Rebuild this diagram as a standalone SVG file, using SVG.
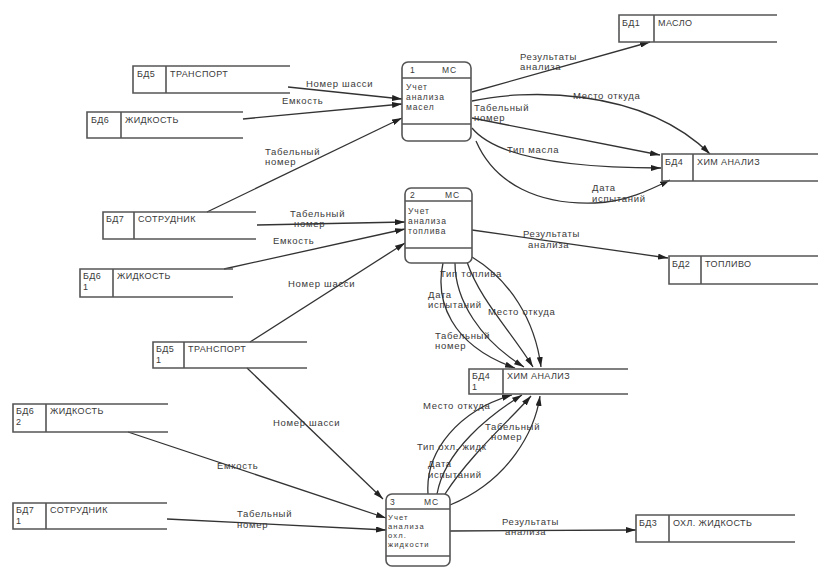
<svg xmlns="http://www.w3.org/2000/svg" width="818" height="567" viewBox="0 0 818 567">
  <defs>
    <marker id="arrow" viewBox="0 0 10 6" markerWidth="10" markerHeight="6" refX="10" refY="3" orient="auto" markerUnits="userSpaceOnUse">
      <path d="M0,0 L10,3 L0,6 Z" fill="#222"/>
    </marker>
    <style>
      .store { fill: none; stroke: #555; stroke-width: 1.6; }
      .proc { fill: #fff; stroke: #555; stroke-width: 1.6; }
      .div { stroke: #555; stroke-width: 1.4; fill: none; }
      .flow { fill: none; stroke: #333; stroke-width: 1.3; marker-end: url(#arrow); }
      text { font-family: "Liberation Sans", Arial, sans-serif; fill: #3a3a3a; }
      .st { font-size: 9px; letter-spacing: 0.4px; }
      .pt { font-size: 8.5px; letter-spacing: 0.9px; }
      .ps { font-size: 7.6px; letter-spacing: 1.1px; }
      .lb { font-size: 9.5px; letter-spacing: 0.7px; }
    </style>
  </defs>
  <rect width="818" height="567" fill="#fff"/>

  <!-- data flows -->
  <g id="connectors">
    <!-- into process 1 -->
    <path class="flow" d="M288,87 L402,99"/>
    <text class="lb" x="306" y="87">Номер шасси</text>
    <path class="flow" d="M243,119 L402,104"/>
    <text class="lb" x="282" y="104">Емкость</text>
    <path class="flow" d="M207,212 L402,118"/>
    <text class="lb" x="265" y="155">Табельный</text>
    <text class="lb" x="265" y="165">номер</text>

    <!-- out of process 1 -->
    <path class="flow" d="M472,92 L650,42"/>
    <text class="lb" x="520" y="60">Результаты</text>
    <text class="lb" x="520" y="70">анализа</text>
    <path class="flow" d="M472,101 C520,90 640,85 710,154"/>
    <text class="lb" x="573" y="99">Место откуда</text>
    <path class="flow" d="M472,118 L660,155"/>
    <text class="lb" x="474" y="111">Табельный</text>
    <text class="lb" x="474" y="121">номер</text>
    <path class="flow" d="M472,128 C490,150 540,168 661,168"/>
    <text class="lb" x="507" y="153">Тип масла</text>
    <path class="flow" d="M476,141 C495,185 540,205 595,203 C625,202 650,190 670,180"/>
    <text class="lb" x="592" y="191">Дата</text>
    <text class="lb" x="592" y="202">испытаний</text>

    <!-- into process 2 -->
    <path class="flow" d="M257,225 L405,222"/>
    <text class="lb" x="290" y="217">Табельный</text>
    <text class="lb" x="294" y="227">номер</text>
    <path class="flow" d="M224,269 L405,229"/>
    <text class="lb" x="273" y="244">Емкость</text>
    <path class="flow" d="M250,342 L405,243"/>
    <text class="lb" x="288" y="287">Номер шасси</text>

    <!-- out of process 2 -->
    <path class="flow" d="M472,230 L668,258"/>
    <text class="lb" x="523" y="237">Результаты</text>
    <text class="lb" x="528" y="248">анализа</text>
    <path class="flow" d="M443,263 C435,300 450,345 515,368"/>
    <path class="flow" d="M455,263 C455,300 480,340 524,367"/>
    <path class="flow" d="M467,262 C480,300 510,330 533,367"/>
    <path class="flow" d="M472,257 C510,280 535,320 541,367"/>
    <text class="lb" x="440" y="277">Тип топлива</text>
    <text class="lb" x="428" y="298">Дата</text>
    <text class="lb" x="428" y="308">испытаний</text>
    <text class="lb" x="488" y="315">Место откуда</text>
    <text class="lb" x="435" y="339">Табельный</text>
    <text class="lb" x="435" y="349">номер</text>

    <!-- into process 3 -->
    <path class="flow" d="M247,368 L383,499"/>
    <text class="lb" x="273" y="426">Номер шасси</text>
    <path class="flow" d="M128,432 L386,518"/>
    <text class="lb" x="217" y="469">Емкость</text>
    <path class="flow" d="M167,519 L386,530"/>
    <text class="lb" x="237" y="517">Табельный</text>
    <text class="lb" x="237" y="528">номер</text>

    <!-- out of process 3 -->
    <path class="flow" d="M450,531 L636,530"/>
    <text class="lb" x="502" y="525">Результаты</text>
    <text class="lb" x="505" y="535">анализа</text>
    <path class="flow" d="M428,494 C425,450 460,410 512,395"/>
    <path class="flow" d="M437,494 C445,450 490,415 522,395"/>
    <path class="flow" d="M445,494 C470,455 510,420 531,396"/>
    <path class="flow" d="M450,505 C510,480 535,430 540,396"/>
    <text class="lb" x="423" y="409">Место откуда</text>
    <text class="lb" x="417" y="450">Тип охл. жидк</text>
    <text class="lb" x="485" y="430">Табельный</text>
    <text class="lb" x="491" y="440">номер</text>
    <text class="lb" x="428" y="467">Дата</text>
    <text class="lb" x="428" y="478">испытаний</text>
  </g>

  <!-- processes -->
  <g id="p1">
    <rect class="proc" x="402" y="62" width="69" height="79" rx="6"/>
    <path class="div" d="M402,78 H471 M402,124 H471"/>
    <text class="pt" x="410" y="73">1</text>
    <text class="pt" x="442" y="73">МС</text>
    <text class="pt" x="406" y="90">Учет</text>
    <text class="pt" x="406" y="100">анализа</text>
    <text class="pt" x="406" y="110">масел</text>
  </g>
  <g id="p2">
    <rect class="proc" x="405" y="188" width="67" height="75" rx="6"/>
    <path class="div" d="M405,201 H472 M405,248 H472"/>
    <text class="pt" x="410" y="198">2</text>
    <text class="pt" x="445" y="198">МС</text>
    <text class="pt" x="408" y="214">Учет</text>
    <text class="pt" x="408" y="224">анализа</text>
    <text class="pt" x="408" y="234">топлива</text>
  </g>
  <g id="p3">
    <rect class="proc" x="386" y="494" width="64" height="72" rx="6"/>
    <path class="div" d="M386,509 H450 M386,556 H450"/>
    <text class="pt" x="390" y="505">3</text>
    <text class="pt" x="424" y="505">МС</text>
    <text class="ps" x="388" y="520">Учет</text>
    <text class="ps" x="388" y="529">анализа</text>
    <text class="ps" x="388" y="538">охл.</text>
    <text class="ps" x="388" y="547">жидкости</text>
  </g>

  <!-- data stores -->
  <g id="bd5">
    <path class="store" d="M290,66 H133 V93 H290 M166,66 V93"/>
    <text class="st" x="137" y="77">БД5</text>
    <text class="st" x="170" y="77">ТРАНСПОРТ</text>
  </g>
  <g id="bd6">
    <path class="store" d="M243,112 H87 V138 H243 M121,112 V138"/>
    <text class="st" x="91" y="123">БД6</text>
    <text class="st" x="125" y="123">ЖИДКОСТЬ</text>
  </g>
  <g id="bd1">
    <path class="store" d="M777,15 H619 V42 H777 M654,15 V42"/>
    <text class="st" x="622" y="26">БД1</text>
    <text class="st" x="658" y="26">МАСЛО</text>
  </g>
  <g id="bd4">
    <path class="store" d="M818,154 H662 V181 H818 M693,154 V181"/>
    <text class="st" x="665" y="165">БД4</text>
    <text class="st" x="697" y="165">ХИМ АНАЛИЗ</text>
  </g>
  <g id="bd7">
    <path class="store" d="M256,212 H103 V239 H256 M134,212 V239"/>
    <text class="st" x="106" y="222">БД7</text>
    <text class="st" x="138" y="222">СОТРУДНИК</text>
  </g>
  <g id="bd6-1">
    <path class="store" d="M233,269 H80 V297 H233 M113,269 V297"/>
    <text class="st" x="83" y="279">БД6</text>
    <text class="st" x="83" y="290">1</text>
    <text class="st" x="117" y="279">ЖИДКОСТЬ</text>
  </g>
  <g id="bd2">
    <path class="store" d="M818,256 H669 V284 H818 M701,256 V284"/>
    <text class="st" x="672" y="267">БД2</text>
    <text class="st" x="705" y="267">ТОПЛИВО</text>
  </g>
  <g id="bd5-1">
    <path class="store" d="M307,342 H153 V368 H307 M184,342 V368"/>
    <text class="st" x="156" y="352">БД5</text>
    <text class="st" x="156" y="363">1</text>
    <text class="st" x="188" y="352">ТРАНСПОРТ</text>
  </g>
  <g id="bd4-1">
    <path class="store" d="M628,369 H469 V394 H628 M503,369 V394"/>
    <text class="st" x="472" y="379">БД4</text>
    <text class="st" x="472" y="390">1</text>
    <text class="st" x="507" y="379">ХИМ АНАЛИЗ</text>
  </g>
  <g id="bd6-2">
    <path class="store" d="M168,404 H13 V432 H168 M46,404 V432"/>
    <text class="st" x="16" y="414">БД6</text>
    <text class="st" x="16" y="425">2</text>
    <text class="st" x="50" y="414">ЖИДКОСТЬ</text>
  </g>
  <g id="bd7-1">
    <path class="store" d="M167,503 H13 V529 H167 M46,503 V529"/>
    <text class="st" x="16" y="513">БД7</text>
    <text class="st" x="16" y="524">1</text>
    <text class="st" x="50" y="513">СОТРУДНИК</text>
  </g>
  <g id="bd3">
    <path class="store" d="M795,515 H636 V542 H795 M669,515 V542"/>
    <text class="st" x="639" y="526">БД3</text>
    <text class="st" x="673" y="526">ОХЛ. ЖИДКОСТЬ</text>
  </g>
</svg>
